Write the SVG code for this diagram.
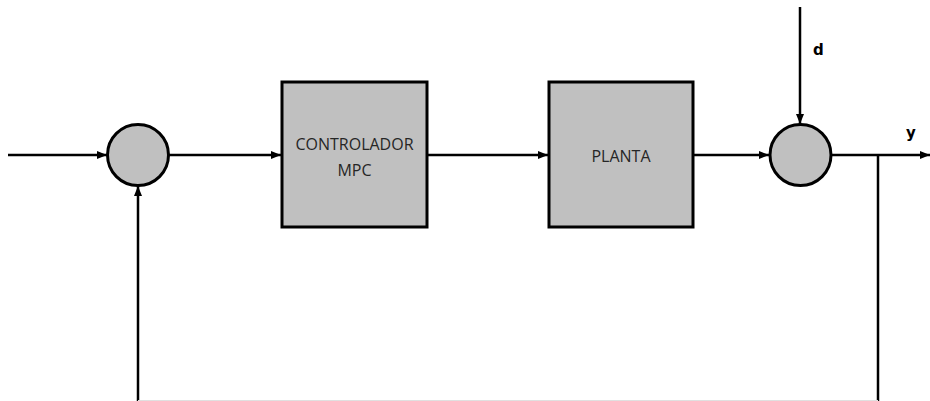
<svg xmlns="http://www.w3.org/2000/svg" width="930" height="401" viewBox="0 0 930 401">
<style>
.blk{fill:#c0c0c0;stroke:#000;stroke-width:3}
.ln{fill:none;stroke:#000;stroke-width:2.5}
.lbl{font-family:"Open Sans","Liberation Sans",sans-serif;font-size:16px;fill:#262626;text-anchor:middle}
.var{font-family:"DejaVu Sans","Liberation Sans",sans-serif;font-size:15px;font-weight:bold;fill:#000}
</style>
<defs>
<marker id="ah" viewBox="0 0 10 8" refX="10" refY="4" markerWidth="10" markerHeight="8" markerUnits="userSpaceOnUse" orient="auto">
<path d="M0,0 L10,4 L0,8 Z" fill="#000"/>
</marker>
</defs>
<rect width="930" height="401" fill="#fff"/>
<g id="connectors">
<line class="ln" x1="8" y1="155" x2="107" y2="155" marker-end="url(#ah)"/>
<line class="ln" x1="169" y1="155" x2="281" y2="155" marker-end="url(#ah)"/>
<line class="ln" x1="428" y1="155" x2="548" y2="155" marker-end="url(#ah)"/>
<line class="ln" x1="693" y1="155" x2="769" y2="155" marker-end="url(#ah)"/>
<line class="ln" x1="800" y1="7" x2="800" y2="124" marker-end="url(#ah)"/>
<line class="ln" x1="832" y1="155" x2="930" y2="155" marker-end="url(#ah)"/>
<polyline class="ln" points="878,155 878,401"/>
<polyline class="ln" points="138,401 138,186" marker-end="url(#ah)"/>
<line x1="138" y1="400.5" x2="878" y2="400.5" stroke="#e0e0e0" stroke-width="1"/>
</g>
<g id="sum1"><circle class="blk" cx="138" cy="155" r="30.5"/></g>
<g id="controlador">
<rect class="blk" x="282" y="82" width="145" height="145"/>
<text class="lbl" x="354.5" y="150">CONTROLADOR</text>
<text class="lbl" x="354.5" y="176">MPC</text>
</g>
<g id="planta">
<rect class="blk" x="549" y="82" width="144" height="145"/>
<text class="lbl" x="621" y="162">PLANTA</text>
</g>
<g id="sum2"><circle class="blk" cx="800.5" cy="155" r="30.5"/></g>
<g id="labels">
<text class="var" x="813" y="55">d</text>
<text class="var" x="906" y="138">y</text>
</g>
</svg>
